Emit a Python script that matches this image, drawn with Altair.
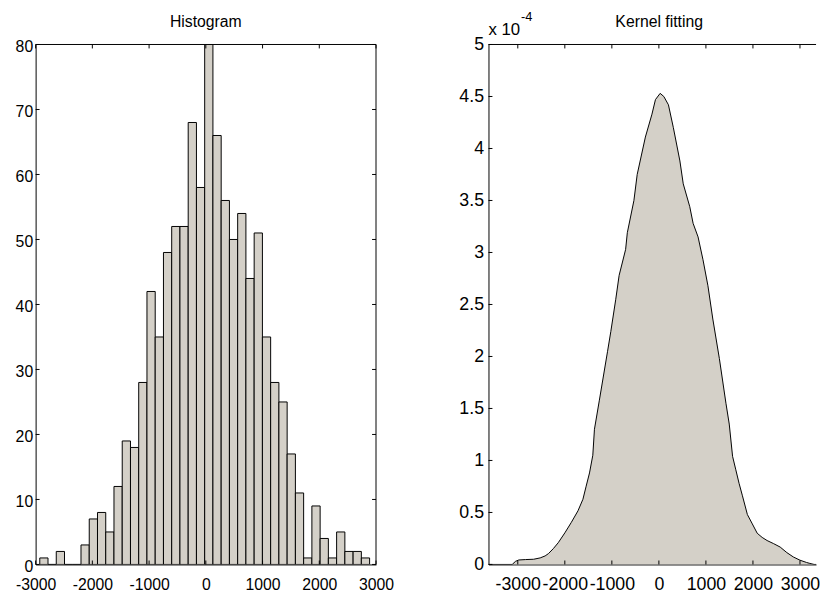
import altair as alt
import pandas as pd

# ---------------- data ----------------
# Left panel: histogram with 40 equal bins between HIST_MIN and HIST_MAX
HIST_COUNTS = [1, 0, 2, 0, 0, 3, 7, 8, 5, 12, 19, 18, 28, 42, 35, 48, 52, 52, 68, 58,
               80, 66, 56, 50, 54, 44, 51, 35, 28, 25, 17, 11, 1, 9, 4, 1, 5, 2, 2, 1]
HIST_MIN = -2927
HIST_MAX = 2887
HIST_X_TICKS = [-3000, -2000, -1000, 0, 1000, 2000, 3000]
HIST_Y_TICKS = [0, 10, 20, 30, 40, 50, 60, 70, 80]

# Right panel: kernel density estimate (values in units of 1e-4)
KDE_X = [-3623, -3119, -3048, -2979, -2838, -2664, -2524, -2419, -2349, -2245,
         -2140, -1999, -1861, -1720, -1615, -1546, -1475, -1405, -1370, -1265,
         -1091, -1022, -917, -845, -707, -671, -531, -461, -287, -147,
         -73, 27, 105, 203, 308, 447, 518, 657, 728, 833,
         938, 1043, 1147, 1286, 1426, 1496, 1567, 1636, 1705, 1777,
         1882, 1987, 2091, 2196, 2301, 2440, 2580, 2721, 2859, 3000,
         3140, 3210, 3300, 3342]
KDE_Y = [0.0, 0.0, 0.03, 0.043, 0.047, 0.05, 0.063, 0.082, 0.104, 0.152,
         0.209, 0.304, 0.405, 0.516, 0.627, 0.753, 0.88, 1.05, 1.3, 1.58,
         2.05, 2.24, 2.55, 2.78, 3.03, 3.19, 3.50, 3.75, 4.11, 4.33,
         4.47, 4.53, 4.50, 4.42, 4.20, 3.88, 3.66, 3.44, 3.28, 3.15,
         2.93, 2.68, 2.36, 1.98, 1.55, 1.35, 1.04, 0.91, 0.78, 0.66,
         0.48, 0.39, 0.30, 0.26, 0.23, 0.20, 0.167, 0.114, 0.072, 0.041,
         0.019, 0.01, 0.0, 0.0]
KDE_X_TICKS = [-3000, -2000, -1000, 0, 1000, 2000, 3000]
KDE_Y_TICKS = [0, 0.5, 1, 1.5, 2, 2.5, 3, 3.5, 4, 4.5, 5]
KDE_X_DOMAIN = [-3623, 3342]

TITLES = ["Histogram", "Kernel fitting"]
EXP_BASE = "x 10"
EXP_POWER = "-4"

# ---------------- styling ----------------
FONT = "Liberation Sans, Arial, sans-serif"
FILL = "#d4d0c8"
W1, W2, H = 345, 332, 527
TICK = 4

n = len(HIST_COUNTS)
bw = (HIST_MAX - HIST_MIN) / n
hist_df = pd.DataFrame({
    "start": [HIST_MIN + i * bw for i in range(n)],
    "end": [HIST_MIN + (i + 1) * bw for i in range(n)],
    "count": HIST_COUNTS,
})
kde_df = pd.DataFrame({"x": KDE_X, "y": KDE_Y})
dummy = pd.DataFrame({"a": [0]})

label_expr = "'' + datum.value"
common_axis = dict(labelExpr=label_expr, ticks=False, grid=False, title=None,
                   labelOverlap=False, labelFlush=False, labelBound=False,
                   domainColor="black")

# ---------------- left panel ----------------
xs1 = alt.Scale(domain=[-3000, 3000], nice=False, zero=False)
ys1 = alt.Scale(domain=[0, 80], nice=False, zero=False)
xa1 = alt.Axis(values=HIST_X_TICKS, labelPadding=12, labelFontSize=16, **common_axis)
ya1 = alt.Axis(values=HIST_Y_TICKS, labelPadding=3, labelFontSize=16, labelOffset=2,
               **common_axis)

bars = alt.Chart(hist_df).mark_rect(fill=FILL, stroke="black", strokeWidth=1, clip=True).encode(
    x=alt.X("start:Q", scale=xs1, axis=xa1),
    x2="end:Q",
    y=alt.Y("count:Q", scale=ys1, axis=ya1),
    y2=alt.datum(0),
)

xt1 = pd.DataFrame({"v": HIST_X_TICKS})
yt1 = pd.DataFrame({"v": HIST_Y_TICKS})
l_bottom = alt.Chart(xt1).mark_rule(color="black").encode(
    x=alt.X("v:Q", scale=xs1, axis=xa1), y=alt.value(H), y2=alt.value(H - TICK))
l_top = alt.Chart(xt1).mark_rule(color="black").encode(
    x=alt.X("v:Q", scale=xs1, axis=xa1), y=alt.value(0), y2=alt.value(TICK))
l_left = alt.Chart(yt1).mark_rule(color="black").encode(
    y=alt.Y("v:Q", scale=ys1, axis=ya1), x=alt.value(0), x2=alt.value(TICK))
l_right = alt.Chart(yt1).mark_rule(color="black").encode(
    y=alt.Y("v:Q", scale=ys1, axis=ya1), x=alt.value(W1), x2=alt.value(W1 - TICK))
l_topline = alt.Chart(dummy).mark_rule(color="black").encode(
    x=alt.value(0), x2=alt.value(W1), y=alt.value(0))
l_rightline = alt.Chart(dummy).mark_rule(color="black").encode(
    x=alt.value(W1), y=alt.value(0), y2=alt.value(H))
l_title = alt.Chart(pd.DataFrame({"t": [TITLES[0]]})).mark_text(
    font=FONT, fontSize=16, align="center", baseline="alphabetic", color="black").encode(
    text="t:N", x=alt.value(W1 / 2), y=alt.value(-18))

left = alt.layer(bars, l_bottom, l_top, l_left, l_right, l_topline, l_rightline, l_title).properties(
    width=W1, height=H)

# ---------------- right panel ----------------
xs2 = alt.Scale(domain=KDE_X_DOMAIN, nice=False, zero=False)
ys2 = alt.Scale(domain=[0, 5], nice=False, zero=False)
xa2 = alt.Axis(values=KDE_X_TICKS, labelPadding=11, labelFontSize=18, **common_axis)
ya2 = alt.Axis(values=KDE_Y_TICKS, labelPadding=5, labelFontSize=18, **common_axis)

area = alt.Chart(kde_df).mark_area(
    color=FILL, opacity=1, fillOpacity=1, clip=True,
    line=alt.OverlayMarkDef(color="black", strokeWidth=1)).encode(
    x=alt.X("x:Q", scale=xs2, axis=xa2),
    y=alt.Y("y:Q", scale=ys2, axis=ya2),
)

xt2 = pd.DataFrame({"v": KDE_X_TICKS})
yt2 = pd.DataFrame({"v": KDE_Y_TICKS})
r_bottom = alt.Chart(xt2).mark_rule(color="black").encode(
    x=alt.X("v:Q", scale=xs2, axis=xa2), y=alt.value(H), y2=alt.value(H - TICK))
r_top = alt.Chart(xt2).mark_rule(color="black").encode(
    x=alt.X("v:Q", scale=xs2, axis=xa2), y=alt.value(0), y2=alt.value(TICK))
r_left = alt.Chart(yt2).mark_rule(color="black").encode(
    y=alt.Y("v:Q", scale=ys2, axis=ya2), x=alt.value(0), x2=alt.value(TICK))
r_topline = alt.Chart(dummy).mark_rule(color="black").encode(
    x=alt.value(0), x2=alt.value(W2), y=alt.value(0))
r_title = alt.Chart(pd.DataFrame({"t": [TITLES[1]]})).mark_text(
    font=FONT, fontSize=16, align="center", baseline="alphabetic", color="black").encode(
    text="t:N", x=alt.value(173), y=alt.value(-18))
r_exp = alt.Chart(pd.DataFrame({"t": [EXP_BASE]})).mark_text(
    font=FONT, fontSize=17, align="left", baseline="alphabetic", color="black").encode(
    text="t:N", x=alt.value(0), y=alt.value(-10))
r_pow = alt.Chart(pd.DataFrame({"t": [EXP_POWER]})).mark_text(
    font=FONT, fontSize=13, align="left", baseline="alphabetic", color="black").encode(
    text="t:N", x=alt.value(33), y=alt.value(-24))

right = alt.layer(area, r_bottom, r_top, r_left, r_topline, r_title, r_exp, r_pow).properties(
    width=W2, height=H)

chart = alt.hconcat(left, right, spacing=114, bounds="flush").properties(
    padding={"left": 7, "top": -1, "right": 0, "bottom": 0},
    background="white",
).configure_view(strokeOpacity=0).configure_axis(
    labelFont=FONT, labelColor="black", domainColor="black", domainWidth=1,
).configure_text(font=FONT)

chart.save("out.html", embed_options={"renderer": "svg", "actions": False})
